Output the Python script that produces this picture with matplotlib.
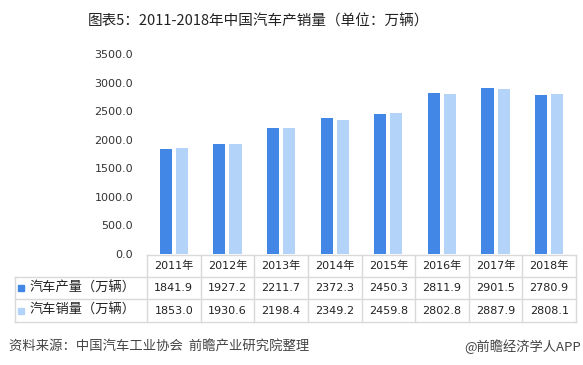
import matplotlib
matplotlib.use("Agg")
import matplotlib.pyplot as plt
from matplotlib.lines import Line2D
from matplotlib.patches import Rectangle
import numpy as np

plt.rcParams['font.family'] = ['Noto Sans CJK SC', 'DejaVu Sans']
NUMFONT = ['DejaVu Sans', 'Noto Sans CJK SC']

title = "图表5：2011-2018年中国汽车产销量（单位：万辆）"
years = ["2011年", "2012年", "2013年", "2014年", "2015年", "2016年", "2017年", "2018年"]
series_names = ["汽车产量（万辆）", "汽车销量（万辆）"]
production = [1841.9, 1927.2, 2211.7, 2372.3, 2450.3, 2811.9, 2901.5, 2780.9]
sales = [1853.0, 1930.6, 2198.4, 2349.2, 2459.8, 2802.8, 2887.9, 2808.1]
yticks = [0, 500, 1000, 1500, 2000, 2500, 3000, 3500]
source = "资料来源：中国汽车工业协会  前瞻产业研究院整理"
credit = "@前瞻经济学人APP"

colors = ["#4287E6", "#B3D3F8"]
W, H = 583, 365
fig = plt.figure(figsize=(W / 100, H / 100), dpi=100)

def fx(px):
    return px / W

def fy(py):
    return 1 - py / H

ax_left, ax_right, ax_top, ax_bot = 147, 576, 54, 254
ax = fig.add_axes([fx(ax_left), fy(ax_bot), fx(ax_right - ax_left), (ax_bot - ax_top) / H])
x = np.arange(len(years))
bw = 0.225
gap = 0.075
ax.bar(x - (bw + gap) / 2, production, bw, color=colors[0], zorder=2)
ax.bar(x + (bw + gap) / 2, sales, bw, color=colors[1], zorder=2)
ax.set_xlim(-0.5, len(years) - 0.5)
ax.set_ylim(0, 3500)
ax.set_yticks(yticks)
ax.set_yticklabels([f"{v:.1f}" for v in yticks], fontsize=8, color="#333333", family=NUMFONT)
ax.tick_params(axis='y', length=0, pad=10)
ax.set_xticks([])
for s in ax.spines.values():
    s.set_visible(False)

# Title
fig.text(fx(258), fy(21), title, ha='center', va='center', fontsize=10.5, color="#222222")

# Table
grid_color = "#D9D9D9"
tab_left = 15
col_edges = np.linspace(ax_left, ax_right, len(years) + 1)
row_edges = [255, 277, 299, 322]

def hline(y, x0, x1):
    fig.add_artist(Line2D([fx(x0), fx(x1)], [fy(y), fy(y)], color=grid_color, lw=1))

def vline(xp, y0, y1):
    fig.add_artist(Line2D([fx(xp), fx(xp)], [fy(y0), fy(y1)], color=grid_color, lw=1))

hline(row_edges[0], ax_left, ax_right)
for yy in row_edges[1:]:
    hline(yy, tab_left, ax_right)
vline(tab_left, row_edges[1], row_edges[3])
for ce in col_edges:
    vline(ce, row_edges[0], row_edges[3])

fs = 8
for i, yr in enumerate(years):
    cx = (col_edges[i] + col_edges[i + 1]) / 2
    fig.text(fx(cx), fy((row_edges[0] + row_edges[1]) / 2), yr, ha='center', va='center',
             fontsize=fs, color="#222222", family=NUMFONT)
    fig.text(fx(cx), fy((row_edges[1] + row_edges[2]) / 2), f"{production[i]:.1f}", ha='center',
             va='center', fontsize=fs, color="#222222", family=NUMFONT)
    fig.text(fx(cx), fy((row_edges[2] + row_edges[3]) / 2), f"{sales[i]:.1f}", ha='center',
             va='center', fontsize=fs, color="#222222", family=NUMFONT)

for k, name in enumerate(series_names):
    cy = (row_edges[k + 1] + row_edges[k + 2]) / 2
    fig.add_artist(Rectangle((fx(18), fy(cy + 3)), fx(6), 6 / H, color=colors[k],
                             transform=fig.transFigure))
    fig.text(fx(30), fy(cy), name, ha='left', va='center', fontsize=9.5, color="#222222")

# Footer
fig.text(fx(9), fy(347), source, ha='left', va='center', fontsize=9.6, color="#444444",
         style='italic')
fig.text(fx(581), fy(347), credit, ha='right', va='center', fontsize=9.5, color="#444444")

fig.savefig("out.png", dpi=100)
